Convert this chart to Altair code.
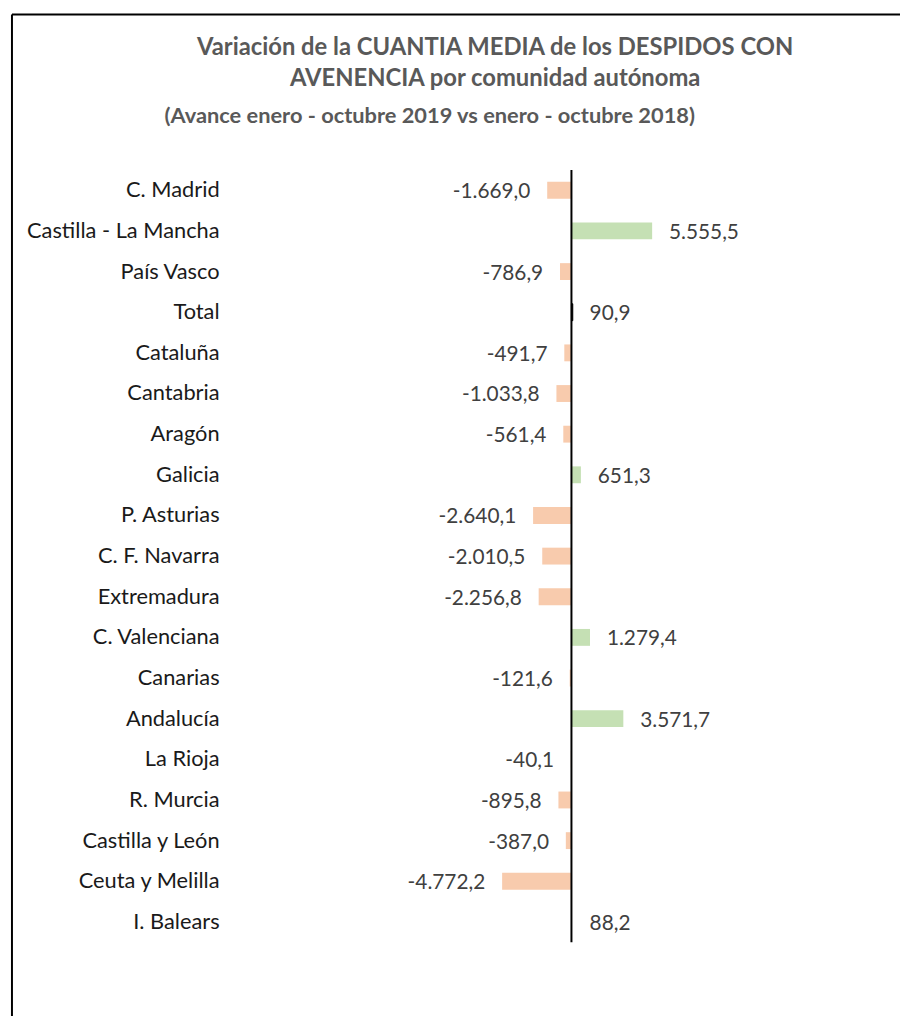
import altair as alt
import pandas as pd

comunidades = [
    "C. Madrid", "Castilla - La Mancha", "País Vasco", "Total", "Cataluña",
    "Cantabria", "Aragón", "Galicia", "P. Asturias", "C. F. Navarra",
    "Extremadura", "C. Valenciana", "Canarias", "Andalucía", "La Rioja",
    "R. Murcia", "Castilla y León", "Ceuta y Melilla", "I. Balears",
]
variacion = [
    -1669.0, 5555.5, -786.9, 90.9, -491.7,
    -1033.8, -561.4, 651.3, -2640.1, -2010.5,
    -2256.8, 1279.4, -121.6, 3571.7, -40.1,
    -895.8, -387.0, -4772.2, 88.2,
]
grupo = [
    "neg", "pos", "neg", "total", "neg",
    "neg", "neg", "pos", "neg", "neg",
    "neg", "pos", "neg", "pos", "neg",
    "neg", "neg", "neg", "sin",
]


def fmt(v):
    s = f"{v:,.1f}"
    return s.replace(",", "X").replace(".", ",").replace("X", ".")


df = pd.DataFrame({
    "comunidad": comunidades,
    "valor": variacion,
    "grupo": grupo,
    "etiqueta": [fmt(v) for v in variacion],
})

FONT = "Lato"
W, H = 469, 779
DOM = [-16000, 16000]
SUBTITULO = "(Avance enero - octubre 2019 vs enero - octubre 2018)"

y_enc = alt.Y(
    "comunidad:N",
    sort=comunidades,
    scale=alt.Scale(paddingInner=0.585, paddingOuter=0.29),
    axis=alt.Axis(
        title=None, domain=False, ticks=False, grid=False,
        labelFont=FONT, labelFontSize=22, labelColor="#1a1a1a",
        labelPadding=121, labelLimit=400,
    ),
)
x_enc = alt.X(
    "valor:Q",
    scale=alt.Scale(domain=DOM, nice=False),
    axis=alt.Axis(
        orient="top", labels=False, ticks=False, domain=False, grid=False,
        title=SUBTITULO, titleX=91, titleY=-55, titleAlign="center",
        titleBaseline="middle", titleFont=FONT, titleFontSize=22,
        titleFontWeight="bold", titleColor="#595959",
    ),
)

base = alt.Chart(df)

bars = base.mark_bar(strokeWidth=1).encode(
    y=y_enc,
    x=x_enc,
    x2=alt.datum(0),
    color=alt.Color(
        "grupo:N",
        scale=alt.Scale(
            domain=["neg", "pos", "total", "sin"],
            range=["#F8CBAD", "#C5E0B4", "#000000", "#FFFFFF"],
        ),
        legend=None,
    ),
    stroke=alt.condition(
        "datum.grupo == 'total'", alt.value("#000000"), alt.value("transparent")
    ),
)

zero = alt.Chart(pd.DataFrame({"cero": [0]})).mark_rule(
    color="black", strokeWidth=2
).encode(x=alt.X("cero:Q", scale=alt.Scale(domain=DOM, nice=False)))

lab_pos = base.transform_filter("datum.valor >= 0").mark_text(
    align="left", baseline="middle", dx=17, dy=2,
    font=FONT, fontSize=21, color="#404040",
).encode(y=y_enc, x=x_enc, text="etiqueta:N")

lab_neg = base.transform_filter("datum.valor < 0").mark_text(
    align="right", baseline="middle", dx=-17, dy=2,
    font=FONT, fontSize=21, color="#404040",
).encode(y=y_enc, x=x_enc, text="etiqueta:N")

# chart-area frame (decoration)
frame_top = alt.Chart(pd.DataFrame({"f": [0]})).mark_rule(
    color="black", strokeWidth=2
).encode(x=alt.value(-330), x2=alt.value(580), y=alt.value(-157))
frame_left = alt.Chart(pd.DataFrame({"f": [0]})).mark_rule(
    color="black", strokeWidth=2
).encode(x=alt.value(-330), y=alt.value(-157), y2=alt.value(870))

chart = alt.layer(
    frame_top, frame_left, bars, zero, lab_pos, lab_neg
).properties(
    width=W,
    height=H,
    title=alt.TitleParams(
        text=["Variación de la CUANTIA MEDIA de los DESPIDOS CON",
              "AVENENCIA por comunidad autónoma"],
        anchor="middle",
        dx=-77,
        offset=-78,
        font=FONT, fontSize=24, fontWeight="bold", color="#595959",
        lineHeight=31,
    ),
    autosize=alt.AutoSizeParams(type="none"),
    padding={"left": 334, "top": 159, "right": 97, "bottom": 70},
).configure_view(stroke=None)

chart.save("out.html", embed_options={"renderer": "svg", "actions": False})
